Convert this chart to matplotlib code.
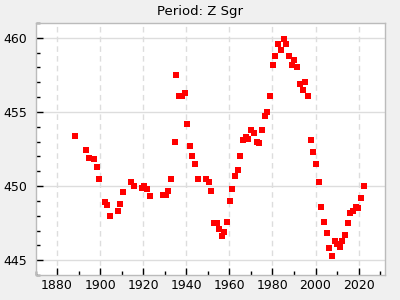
import matplotlib
matplotlib.use("Agg")
import matplotlib.pyplot as plt
from matplotlib.ticker import MultipleLocator

years = [1888.3, 1893.4, 1894.9, 1897.1, 1898.5, 1899.4, 1902.2, 1903.1, 1904.5, 1908.2,
         1909.2, 1910.6, 1914.3, 1915.7, 1919.4, 1920.3, 1921.7, 1923.1, 1929.1, 1930.5,
         1931.4, 1932.8, 1934.6, 1935.2, 1936.8, 1938.0, 1939.4, 1940.3, 1941.7, 1942.6,
         1944.0, 1945.4, 1949.1, 1950.7, 1951.5, 1952.8, 1954.2, 1955.1, 1956.5, 1957.5,
         1958.8, 1960.2, 1961.2, 1962.5, 1963.9, 1964.9, 1966.2, 1967.6, 1968.6, 1970.0,
         1971.4, 1972.7, 1973.7, 1975.0, 1976.4, 1977.3, 1978.8, 1980.1, 1981.1, 1982.5,
         1983.8, 1985.2, 1986.2, 1987.5, 1988.9, 1989.9, 1991.2, 1992.6, 1994.0, 1994.9,
         1996.3, 1997.7, 1998.6, 2000.0, 2001.4, 2002.4, 2003.8, 2005.1, 2006.1, 2007.5,
         2008.8, 2009.8, 2011.2, 2012.1, 2013.5, 2014.9, 2015.8, 2017.2, 2018.6, 2019.5,
         2020.9, 2022.3]
periods = [453.4, 452.4, 451.9, 451.8, 451.3, 450.5, 448.9, 448.7, 448.0, 448.3,
           448.8, 449.6, 450.3, 450.0, 449.9, 450.0, 449.8, 449.3, 449.4, 449.4,
           449.7, 450.5, 453.0, 457.5, 456.1, 456.1, 456.3, 454.2, 452.7, 452.0,
           451.5, 450.5, 450.5, 450.3, 449.7, 447.5, 447.5, 447.1, 446.6, 446.9,
           447.6, 449.0, 449.8, 450.7, 451.1, 452.0, 453.1, 453.3, 453.2, 453.8,
           453.6, 453.0, 452.9, 453.8, 454.7, 455.0, 456.1, 458.2, 458.8, 459.6,
           459.2, 459.9, 459.6, 458.8, 458.2, 458.5, 458.0, 456.9, 456.5, 457.0,
           456.1, 453.1, 452.3, 451.5, 450.3, 448.6, 447.6, 446.8, 445.8, 445.3,
           446.3, 446.1, 445.9, 446.3, 446.7, 447.5, 448.2, 448.3, 448.6, 448.5,
           449.2, 450.0]

fig = plt.figure(figsize=(4, 3), dpi=100, facecolor="#f0f0f0")
ax = fig.add_axes([35.5/400, 1 - 275/300, (384.5-35.5)/400, (275-23)/300])
ax.set_facecolor("white")
ax.plot(years, periods, linestyle="none", marker="s", markersize=4.3,
        color="#ff0000", markeredgewidth=0)
ax.set_xlim(1870, 2032)
ax.set_ylim(444, 461)
ax.xaxis.set_major_locator(MultipleLocator(20))
ax.xaxis.set_minor_locator(MultipleLocator(10))
ax.yaxis.set_major_locator(MultipleLocator(5))
ax.yaxis.set_minor_locator(MultipleLocator(1))
ax.grid(True, axis="x", which="major", color="#dddddd", linestyle=(0, (4, 3)), linewidth=1)
ax.grid(True, axis="y", which="major", color="#dddddd", linestyle="-", linewidth=1)
ax.set_axisbelow(True)
ax.tick_params(which="both", direction="in", top=False, right=False, colors="black",
               labelsize=9, width=1)
ax.tick_params(which="major", length=5)
ax.tick_params(axis="x", which="major", pad=3)
ax.tick_params(axis="y", which="major", pad=6)
ax.tick_params(which="minor", length=3)
for s in ax.spines.values():
    s.set_color("#bbbbbb")
    s.set_linewidth(1)
fig.text(200/400, 1 - 11/300, "Period: Z Sgr", ha="center", va="center", fontsize=9.5)
fig.savefig("out.png", dpi=100, facecolor=fig.get_facecolor())
